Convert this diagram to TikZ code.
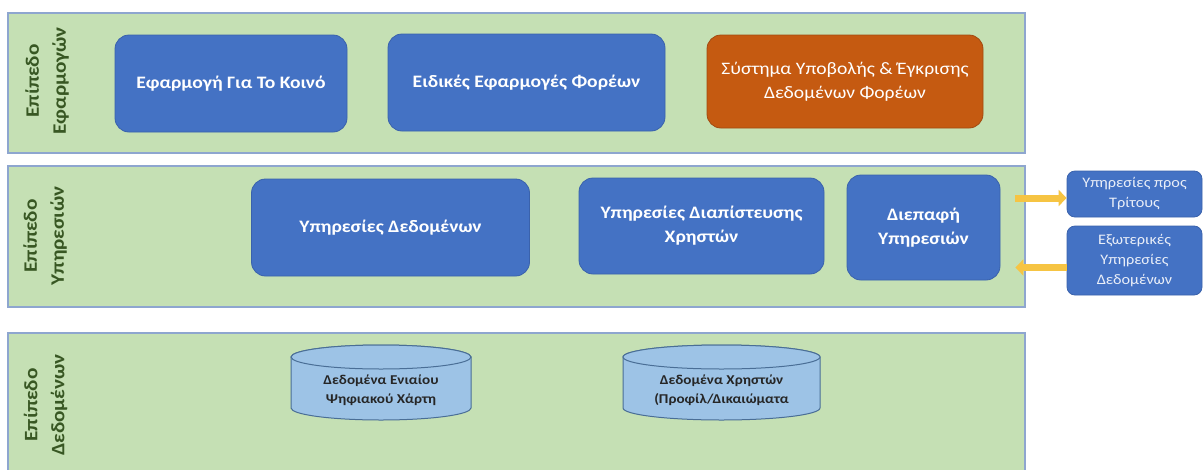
\documentclass[tikz,border=0pt]{standalone}
\usepackage{fontspec}
\setmainfont{Carlito}[FakeStretch=1.12]
\usetikzlibrary{arrows.meta}
\definecolor{layergreen}{HTML}{C5E0B4}
\definecolor{layerline}{HTML}{8EA6CF}
\definecolor{boxblue}{HTML}{4472C4}
\definecolor{boxline}{HTML}{3A62AC}
\definecolor{boxorange}{HTML}{C55A11}
\definecolor{orangeline}{HTML}{A24A10}
\definecolor{labelgreen}{HTML}{385723}
\definecolor{cylfill}{HTML}{9DC3E6}
\definecolor{cylline}{HTML}{4A6E96}
\definecolor{arrowyellow}{HTML}{F6C443}
\definecolor{cyltext}{HTML}{262626}
\begin{document}
\begin{tikzpicture}[x=1pt,y=-1pt,
  layer/.style={draw=layerline, fill=layergreen, line width=1.5pt, inner sep=0pt},
  sidelabel/.style={rotate=90, align=center, text=labelgreen, font=\bfseries\fontsize{19}{27}\selectfont},
  bigbox/.style={rounded corners=14pt, draw=boxline, fill=boxblue, text=white, line width=0.8pt,
    font=\bfseries\fontsize{17.5}{24}\selectfont, align=center, inner sep=0pt},
  orangebox/.style={bigbox, draw=orangeline, fill=boxorange, font=\fontsize{17.5}{24}\selectfont},
  smallbox/.style={rounded corners=8pt, draw=boxline, fill=boxblue, text=white!88!boxblue, line width=0.8pt,
    font=\fontsize{14.5}{20}\selectfont, align=center, inner sep=0pt, minimum width=135pt},
  cylshape/.style={draw=cylline, fill=cylfill, line width=1pt},
  cyltextstyle/.style={align=center, text=cyltext, font=\bfseries\fontsize{13.5}{19}\selectfont},
  yarrow/.style={draw=arrowyellow, line width=7pt, -{Triangle[length=8pt,width=16pt]}}
]
\useasboundingbox (0,0) rectangle (1204,469);
\fill[white] (0,0) rectangle (1204,469);

% layers
\node[layer, minimum width=1017pt, minimum height=140pt] (L1) at (516.5,83) {};
\node[layer, minimum width=1017pt, minimum height=141pt] (L2) at (516.5,236.5) {};
\node[layer, minimum width=1017pt, minimum height=160pt] (L3) at (516.5,413) {};

\node[sidelabel] (s1) at (47,81) {Επίπεδο\\Εφαρμογών};
\node[sidelabel] (s2) at (45,236) {Επίπεδο\\Υπηρεσιών};
\node[sidelabel] (s3) at (45.5,405) {Επίπεδο\\Δεδομένων};

% application layer
\node[bigbox, minimum width=232pt, minimum height=97pt] (app1) at (231,83.5) {Εφαρμογή Για Το Κοινό};
\node[bigbox, minimum width=277pt, minimum height=97pt] (app2) at (526.5,82.5) {Ειδικές Εφαρμογές Φορέων};
\node[orangebox, minimum width=276pt, minimum height=93pt] (app3) at (845,81.5) {Σύστημα Υποβολής \& Έγκρισης\\Δεδομένων Φορέων};

% services layer
\node[bigbox, minimum width=278pt, minimum height=97pt] (srv1) at (390.5,227.5) {Υπηρεσίες Δεδομένων};
\node[bigbox, minimum width=245pt, minimum height=96pt] (srv2) at (701.5,226) {Υπηρεσίες Διαπίστευσης\\Χρηστών};
\node[bigbox, minimum width=153pt, minimum height=105pt] (dif) at (923.5,227.5) {Διεπαφή\\Υπηρεσιών};

\node[smallbox, minimum height=46pt] (trit) at (1134.5,194) {Υπηρεσίες προς\\Τρίτους};
\node[smallbox, minimum height=69pt] (ext) at (1134.5,260.5) {Εξωτερικές\\Υπηρεσίες\\Δεδομένων};

\coordinate (a1) at ([xshift=15pt,yshift=-4pt]dif.east |- trit.west);
\coordinate (b1) at ([yshift=-4pt]trit.west);
\draw[yarrow] (a1) -- (b1);
\coordinate (b2) at ([yshift=-7pt]ext.west);
\draw[yarrow] (b2) -- (b2 -| a1);

% data layer
\filldraw[cylshape] (291,357) -- (291,408) arc[start angle=180,end angle=360,x radius=90pt,y radius=12pt]
  -- (471,357) arc[start angle=0,end angle=180,x radius=90pt,y radius=12pt] -- cycle;
\draw[cylshape] (381,357) ellipse[x radius=90pt, y radius=12pt];
\node[cyltextstyle] (cyl1) at (381,390) {Δεδομένα Ενιαίου\\Ψηφιακού Χάρτη};

\filldraw[cylshape] (623,357) -- (623,408) arc[start angle=180,end angle=360,x radius=98.5pt,y radius=12pt]
  -- (820,357) arc[start angle=0,end angle=180,x radius=98.5pt,y radius=12pt] -- cycle;
\draw[cylshape] (721.5,357) ellipse[x radius=98.5pt, y radius=12pt];
\node[cyltextstyle] (cyl2) at (721.5,390) {Δεδομένα Χρηστών\\(Προφίλ/Δικαιώματα};
\end{tikzpicture}
\end{document}
